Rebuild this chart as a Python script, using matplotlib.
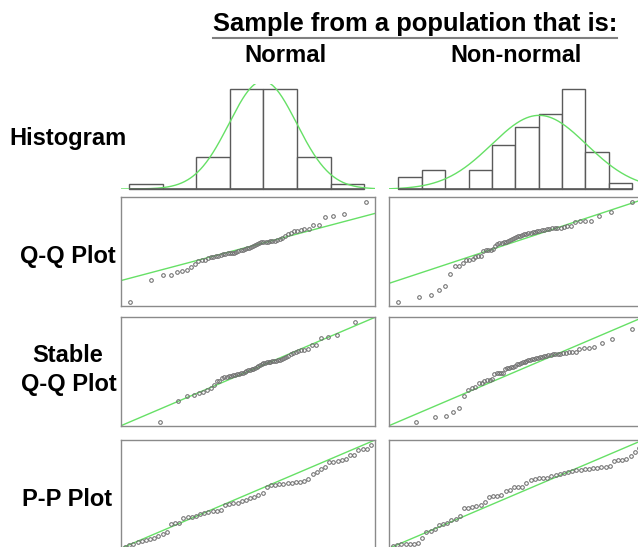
import numpy as np
import matplotlib
matplotlib.use('Agg')
import matplotlib.pyplot as plt
from matplotlib.lines import Line2D
from statistics import NormalDist

plt.rcParams['font.family'] = ['Liberation Sans', 'DejaVu Sans']

# histogram bin counts (equal-width bins)
hist_normal = [1, 0, 7, 22, 22, 7, 1]
hist_nonnormal = [2, 3, 0, 3, 7, 10, 12, 16, 6, 1]

qq_normal = [3.7, 23.7, 28.3, 28.3, 31.4, 32.0, 32.9, 35.4, 38.5, 41.5,
             41.8, 41.8, 44.3, 44.6, 45.2, 45.5, 46.2, 46.8, 47.4, 47.7,
             48.3, 48.3, 48.9, 48.9, 49.8, 50.8, 51.1, 51.7, 52.3, 52.9,
             53.5, 54.5, 55.1, 55.7, 56.6, 58.2, 58.5, 58.5, 58.8, 59.1,
             59.4, 59.7, 60.0, 60.6, 61.2, 62.8, 64.3, 65.8, 67.4, 68.9,
             69.2, 69.8, 70.5, 71.1, 74.5, 74.5, 81.5, 82.8, 84.3, 96.0]
qq_nonnormal = [3.7, 8.3, 9.5, 14.2, 18.2, 29.2, 36.6, 36.6, 39.1, 41.8,
                42.5, 43.1, 45.2, 45.8, 46.2, 50.8, 51.1, 51.4, 51.4, 52.0,
                55.1, 56.9, 57.5, 58.2, 58.5, 59.1, 59.7, 60.6, 61.5, 62.2,
                63.1, 64.0, 64.6, 65.2, 65.8, 66.5, 66.8, 67.4, 67.7, 68.0,
                68.6, 69.2, 69.5, 70.2, 70.8, 71.1, 71.4, 71.4, 71.7, 71.7,
                72.9, 73.5, 73.8, 77.5, 77.8, 77.8, 78.2, 82.5, 86.2, 96.0]
stable_normal = [3.7, 23.1, 27.7, 28.3, 30.5, 31.4, 32.9, 35.1, 37.5, 41.2,
                 41.5, 43.7, 44.6, 45.2, 45.5, 46.2, 46.5, 47.1, 47.4, 47.7,
                 48.3, 48.6, 49.5, 50.5, 51.1, 51.4, 52.0, 52.6, 53.2, 53.8,
                 55.1, 56.0, 56.9, 57.5, 58.2, 58.5, 58.8, 59.1, 59.4, 59.7,
                 60.0, 60.3, 60.6, 61.5, 62.5, 63.4, 64.6, 65.8, 67.4, 68.3,
                 68.9, 69.5, 70.2, 70.5, 74.2, 74.5, 80.9, 82.2, 83.7, 96.0]
stable_nonnormal = [3.7, 7.7, 8.9, 12.9, 16.6, 27.4, 32.9, 34.5, 35.4, 39.7,
                    39.7, 41.2, 42.2, 42.2, 42.8, 47.7, 48.3, 48.3, 48.3, 48.9,
                    52.0, 52.9, 53.5, 53.8, 54.5, 55.4, 56.6, 57.2, 58.2, 58.8,
                    59.1, 59.7, 60.3, 60.9, 61.2, 61.8, 62.2, 62.8, 63.4, 63.7,
                    64.3, 64.6, 65.2, 65.5, 65.8, 66.2, 66.5, 66.5, 66.8, 67.4,
                    67.7, 68.3, 68.3, 70.8, 72.0, 72.0, 72.3, 76.0, 79.7, 88.9]
pp_normal = [1.5, 3.1, 4.3, 5.5, 6.8, 7.7, 8.6, 9.8, 11.1, 12.9,
             15.4, 22.2, 23.1, 23.4, 28.3, 28.6, 29.2, 30.2, 32.0, 32.9,
             33.8, 34.5, 34.8, 35.4, 40.0, 40.6, 41.5, 42.2, 43.7, 44.9,
             46.5, 47.7, 49.2, 51.1, 56.9, 58.5, 58.5, 59.1, 59.7, 60.0,
             60.6, 61.2, 61.5, 62.2, 64.0, 68.3, 70.2, 72.9, 75.4, 79.4,
             80.0, 80.6, 81.5, 82.2, 86.2, 86.2, 90.8, 91.4, 91.7, 95.4]
pp_nonnormal = [2.2, 3.1, 3.7, 3.7, 4.0, 4.3, 5.2, 9.2, 15.4, 16.0,
                17.8, 21.5, 22.8, 23.7, 26.5, 27.1, 29.5, 36.9, 37.5, 38.2,
                39.1, 39.7, 42.5, 47.7, 48.3, 48.6, 48.9, 52.9, 53.8, 56.3,
                56.6, 56.9, 60.0, 63.1, 64.0, 64.6, 64.6, 65.2, 67.1, 68.0,
                68.6, 69.5, 70.2, 71.4, 72.3, 72.6, 73.2, 73.2, 73.8, 74.5,
                74.8, 75.4, 76.3, 80.6, 81.5, 81.5, 82.5, 85.5, 89.2, 92.9]

# Q-Q reference lines: (value at z=0, slope per z)
qq_line_normal = (54.1, 12.0)
qq_line_nonnormal = (59.0, 14.85)

col_titles = ['Normal', 'Non-normal']
row_titles = ['Histogram', 'Q-Q Plot', 'Stable', 'Q-Q Plot', 'P-P Plot']

GREEN = '#66e066'
BAR = '#5a5a5a'
FRAME = '#8a8a8a'
PT = '#6e6e6e'
W, H = 638, 547

fig = plt.figure(figsize=(W / 100, H / 100), dpi=100)


def px_axes(left, right, top, bottom):
    return fig.add_axes([left / W, 1 - bottom / H, (right - left) / W, (bottom - top) / H])


def draw_hist(ax, counts, xlim, ytop):
    counts = np.array(counts, dtype=float)
    edges = np.arange(len(counts) + 1)
    ax.bar(edges[:-1], counts, width=1, align='edge', facecolor='white',
           edgecolor=BAR, linewidth=1.0, clip_on=False)
    centers = edges[:-1] + 0.5
    n = counts.sum()
    mu = (centers * counts).sum() / n
    sd = np.sqrt(((centers - mu) ** 2 * counts).sum() / n)
    xs = np.linspace(xlim[0], xlim[1], 400)
    ys = n / (sd * np.sqrt(2 * np.pi)) * np.exp(-0.5 * ((xs - mu) / sd) ** 2)
    ax.plot(xs, ys, color=GREEN, lw=1.0)
    ax.hlines(0, edges[0], edges[-1], color=BAR, lw=1.2, clip_on=False)
    ax.set_xlim(xlim)
    ax.set_ylim(0, ytop)
    ax.axis('off')


def frame(ax, xlim):
    ax.set_xlim(xlim)
    ax.set_ylim(0, 100)
    ax.set_xticks([])
    ax.set_yticks([])
    for s in ax.spines.values():
        s.set_color(FRAME)
        s.set_linewidth(1.0)


def points(ax, xs, ys):
    ax.plot(xs, ys, 'o', ms=2.6, mfc='none', mec=PT, mew=0.75, clip_on=False)


def zscores(n):
    return [NormalDist().inv_cdf((i - 0.5) / n) for i in range(1, n + 1)]


cols = [(121, 375), (389, 643)]

# histograms
ax = px_axes(*cols[0], 84, 189)
draw_hist(ax, hist_normal, (-0.24, 7.32), 23.1)
ax = px_axes(*cols[1], 84, 189.3)
draw_hist(ax, hist_nonnormal, (-0.40, 10.46), 16.8)

# Q-Q plots
for (l, r), vals, line, xl in [(cols[0], qq_normal, qq_line_normal, (-2.576, 2.587)),
                               (cols[1], qq_nonnormal, qq_line_nonnormal, (-2.585, 2.626))]:
    ax = px_axes(l, r, 197.3, 305.7)
    frame(ax, xl)
    ax.axline((0, line[0]), slope=line[1], color=GREEN, lw=1.0)
    points(ax, zscores(len(vals)), vals)

# stabilised Q-Q plots
for (l, r), vals, xl in [(cols[0], stable_normal, (-3.351, 2.885)),
                         (cols[1], stable_nonnormal, (-2.986, 2.646))]:
    ax = px_axes(l, r, 317.3, 425.7)
    frame(ax, xl)
    ax.plot([0, 1], [0, 1], transform=ax.transAxes, color=GREEN, lw=1.0)
    points(ax, zscores(len(vals)), vals)

# P-P plots
for (l, r), vals in [(cols[0], pp_normal), (cols[1], pp_nonnormal)]:
    ax = px_axes(l, r, 440, 548.3)
    frame(ax, (0, 1))
    ax.plot([0, 1], [0, 1], transform=ax.transAxes, color=GREEN, lw=1.0)
    n = len(vals)
    points(ax, [i / (n + 1) for i in range(1, n + 1)], vals)


# header and row labels
def ftext(x, y, s, size, ha='left'):
    fig.text(x / W, 1 - y / H, s, fontsize=size, fontweight='bold', ha=ha, va='baseline')


ftext(415, 30.7, 'Sample from a population that is:', 18.4, ha='center')
fig.add_artist(Line2D([213 / W, 617 / W], [1 - 37.5 / H] * 2, color='#808080', lw=1.5))
ftext(285, 61.7, col_titles[0], 17.2, ha='center')
ftext(516, 61.7, col_titles[1], 16.8, ha='center')

ftext(9.5, 144.5, row_titles[0], 17)
ftext(20.5, 263.5, row_titles[1], 17)
ftext(68, 362.5, row_titles[2], 17, ha='center')
ftext(68.5, 391.5, row_titles[3], 17, ha='center')
ftext(22.5, 506.5, row_titles[4], 17)

fig.savefig('out.png', dpi=100, facecolor='white')
